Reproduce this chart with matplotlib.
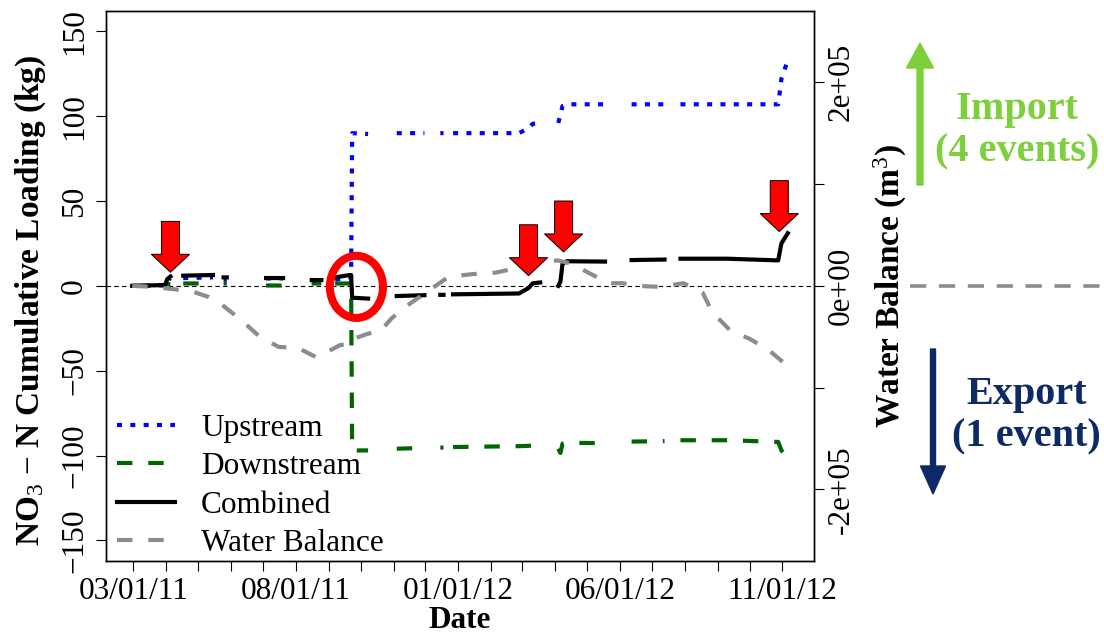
import matplotlib
matplotlib.use('Agg')
import matplotlib.pyplot as plt
import matplotlib.dates as mdates
import numpy as np
import pandas as pd
from matplotlib.lines import Line2D
from matplotlib.patches import Ellipse, FancyArrow
from matplotlib.ticker import FixedLocator, FuncFormatter

plt.rcParams['font.family'] = 'Liberation Serif'
plt.rcParams['mathtext.fontset'] = 'custom'
plt.rcParams['mathtext.rm'] = 'Liberation Serif'
plt.rcParams['mathtext.it'] = 'Liberation Serif:italic'
plt.rcParams['mathtext.bf'] = 'Liberation Serif:bold'

nan = np.nan

# NO3-N cumulative loads (kg), nan = gap in the logger record
load_dates = ['2011-02-28', '2011-03-31', '2011-04-02', '2011-04-05', '2011-04-10',
              '2011-04-17', '2011-05-15', '2011-05-20',
              '2011-05-25', '2011-05-28', '2011-06-01',
              '2011-07-04', '2011-07-20', '2011-07-25',
              '2011-08-16', '2011-08-25', '2011-08-30',
              '2011-09-07', '2011-09-20', '2011-09-22', '2011-09-23', '2011-10-08', '2011-10-15',
              '2011-11-04', '2011-11-30', '2011-12-05',
              '2011-12-15', '2011-12-18', '2011-12-21',
              '2011-12-27', '2012-02-27', '2012-03-07', '2012-03-11', '2012-03-18', '2012-03-25',
              '2012-04-04', '2012-04-06', '2012-04-08', '2012-04-12', '2012-05-18', '2012-05-25',
              '2012-06-12', '2012-07-13', '2012-07-20',
              '2012-07-28', '2012-09-10', '2012-10-28', '2012-10-31', '2012-11-06']

upstream_kg = [0, 0.3, 3.0, 4.5, nan,
               4.6, 5.0, nan,
               3.6, 3.6, nan,
               4.4, 4.4, nan,
               2.0, 2.0, nan,
               3.6, 4.9, 5.0, 90, 89.5, nan,
               90, 90, nan,
               90, 90, nan,
               90, 90, 93, 95.5, 96, nan,
               96, 101, 106, 107, 107, nan,
               107, 107, nan,
               107, 107, 107, 122, 133]

downstream_kg = [0, 0.2, 1.0, 1.0, nan,
                 1.4, 1.4, nan,
                 1.4, 1.4, nan,
                 0.2, 0.2, nan,
                 1.4, 1.4, nan,
                 1.4, 1.4, 1.4, -97, -97, nan,
                 -96, -95.5, nan,
                 -95.3, -95.3, nan,
                 -95, -94.5, -94.3, -94, -94, nan,
                 -96, -98.5, -93, -92.5, -92.7, nan,
                 -91.8, -91.5, nan,
                 -91, -91, -92, -97, -102]

# cumulative water balance (m3)
wb_dates = ['2011-02-28', '2011-03-19', '2011-04-10', '2011-04-27', '2011-05-11', '2011-05-24',
            '2011-06-11', '2011-06-28', '2011-07-16', '2011-08-03', '2011-08-20', '2011-09-03',
            '2011-09-12', '2011-09-20', '2011-09-27', '2011-10-08', '2011-10-20', '2011-10-30',
            '2011-11-17', '2011-12-05', '2011-12-23', '2012-01-14', '2012-02-05', '2012-02-23',
            '2012-03-16', '2012-04-03', '2012-04-16', '2012-05-04', '2012-05-22', '2012-06-04',
            '2012-06-17', '2012-07-09', '2012-07-31', '2012-08-18', '2012-08-27', '2012-09-13',
            '2012-10-01', '2012-10-19', '2012-11-05']

water_balance_m3 = [0, -1000, -3500, -6000, -11000, -19000,
                    -34000, -50000, -60000, -61000, -70000, -63000,
                    -58000, -58000, -51000, -47000, -44000, -32000,
                    -17000, -4000, 9000, 11500, 13000, 17000,
                    22000, 25000, 22000, 12000, 2600, 2600,
                    0, -1000, 2600, -7000, -26000, -44000,
                    -52000, -63000, -78000]

# storm events marked with arrows
event_dates = ['2011-04-05', '2012-03-07', '2012-04-09', '2012-10-29']

legend_labels = ['Upstream', 'Downstream', 'Combined', 'Water Balance']

W, H = 1104, 636
FS = 22.5


def px_x(x):
    return x / W


def px_y(y):
    return 1 - y / H


# Function turns date strings into matplotlib day numbers
def to_days(dates):
    return mdates.date2num(pd.to_datetime(dates))


# Function labels every fifth month starting from March 2011
def month_label(value, pos):
    d = mdates.num2date(value)
    if (d.year * 12 + d.month - (2011 * 12 + 3)) % 5 == 0:
        return d.strftime('%m/%d/%y')
    return ''


# Function draws the red block arrows over the load events
def draw_event_arrows(ax_top, ax_data, dates, tips):
    for date, tip in zip(dates, tips):
        x = to_days([date])[0]
        arrow = FancyArrow(x, tip + 30, 0, -30, width=17, head_width=36, head_length=10.6,
                           length_includes_head=True, facecolor='#ff0000', edgecolor='black',
                           linewidth=0.7, transform=ax_data.transData, zorder=10)
        ax_top.add_artist(arrow)


# MAIN
fig = plt.figure(figsize=(W / 100, H / 100), dpi=100)
ax = fig.add_axes([px_x(106), px_y(560.7), (814 - 106) / W, (560.7 - 11) / H])
ax2 = ax.twinx()

t_load = to_days(load_dates)
up = np.array(upstream_kg, dtype=float)
down = np.array(downstream_kg, dtype=float)
combined = up + down
t_wb = to_days(wb_dates)

lw = 3
l_up, = ax.plot(t_load, up, color='blue', lw=lw, linestyle=(0, (1.2, 2.0)))
l_down, = ax.plot(t_load, down, color='#006400', lw=lw, linestyle=(0, (3.7, 3.8)))
l_comb, = ax.plot(t_load, combined, color='black', lw=lw)
ax.axhline(0, color='black', lw=0.8, linestyle=(0, (4, 3)), zorder=1)
l_wb, = ax2.plot(t_wb, water_balance_m3, color='#8c8c8c', lw=lw, linestyle=(0, (3.7, 3.8)))

# x range padded by 4% like R does
span = t_load.max() - t_load.min()
ax.set_xlim(t_load.min() - 0.04 * span, t_load.max() + 0.04 * span)
ax.set_ylim(-162, 162)
ax2.set_ylim(-2.7e5, 2.7e5)

ax.xaxis.set_major_locator(mdates.MonthLocator())
ax.xaxis.set_major_formatter(FuncFormatter(month_label))
ax.set_yticks([-150, -100, -50, 0, 50, 100, 150])
ax.tick_params(axis='both', direction='out', length=7.2, width=0.8, labelsize=FS)
ax.tick_params(axis='x', pad=4.3)
ax.tick_params(axis='y', pad=5, labelrotation=90)
for lab in ax.get_yticklabels():
    lab.set_va('center')

ax2.yaxis.set_major_locator(FixedLocator([-2e5, -1e5, 0, 1e5, 2e5]))
ax2.set_yticklabels(['-2e+05', '', '0e+00', '', '2e+05'])
ax2.tick_params(axis='y', direction='out', length=7.2, width=0.8, labelsize=FS, pad=2,
                labelrotation=90)
for lab in ax2.get_yticklabels():
    lab.set_va('center')

for a in (ax, ax2):
    for s in a.spines.values():
        s.set_linewidth(1.0)

fig.text(px_x(31), px_y(300), r'NO$_3$ $-$ N Cumulative Loading (kg)', rotation=90,
         ha='center', va='center', fontsize=24, fontweight='bold')
fig.text(px_x(890), px_y(286), r'Water Balance (m$^3$)', rotation=90,
         ha='center', va='center', fontsize=24, fontweight='bold')
fig.text(px_x(460), px_y(635), 'Date', ha='center', va='bottom', fontsize=FS,
         fontweight='bold')

ax2.legend([l_up, l_down, l_comb, l_wb], legend_labels, loc='center left',
           bbox_to_anchor=(px_x(116.7), px_y(486)), bbox_transform=fig.transFigure,
           frameon=False, fontsize=FS, handlelength=1.85, handletextpad=0.85,
           labelspacing=0.3, borderpad=0, borderaxespad=0)

draw_event_arrows(ax2, ax, event_dates, [8, 6, 20, 32])

ring = Ellipse((to_days(['2011-09-27'])[0], -0.6), width=50, height=36.6, fill=False,
               edgecolor='#ff0000', linewidth=5.8, transform=ax.transData, zorder=11)
ax2.add_artist(ring)

# import / export arrows and notes right of the plot
green = '#7dcf3c'
navy = '#0e2a66'
fig.patches.append(FancyArrow(px_x(920), px_y(185), 0, px_y(43) - px_y(185),
                              width=6 / W, head_width=27 / W, head_length=25 / H,
                              length_includes_head=True, color=green,
                              transform=fig.transFigure, figure=fig))
fig.patches.append(FancyArrow(px_x(933), px_y(349), 0, px_y(494) - px_y(349),
                              width=5 / W, head_width=25 / W, head_length=28 / H,
                              length_includes_head=True, color=navy,
                              transform=fig.transFigure, figure=fig))
fig.text(px_x(1016.7), px_y(131), 'Import\n(4 events)', ha='center', va='center',
         fontsize=29, fontweight='bold', color=green, linespacing=1.2)
fig.text(px_x(1026.5), px_y(415.5), 'Export\n(1 event)', ha='center', va='center',
         fontsize=29, fontweight='bold', color=navy, linespacing=1.2)
fig.add_artist(Line2D([px_x(910), 1.0], [px_y(286), px_y(286)], transform=fig.transFigure,
                      color='#8c8c8c', lw=2.6, linestyle=(0, (4.5, 3.5))))

fig.savefig('out.png', dpi=100)
